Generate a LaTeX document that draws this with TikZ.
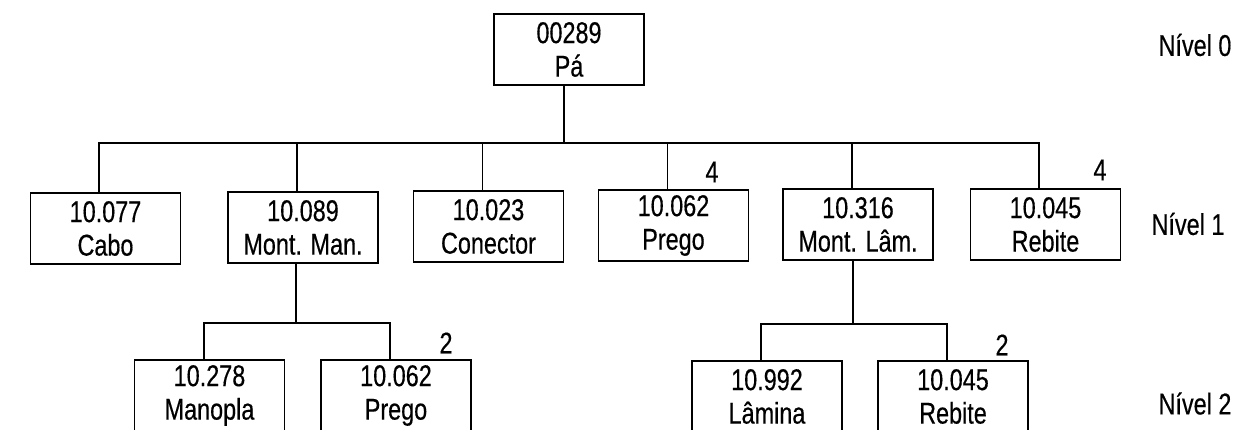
\documentclass[tikz,border=0pt]{standalone}
\usepackage{fontspec}
\setmainfont{Liberation Sans}[FakeStretch=0.78,FakeBold=0.4]
\begin{document}
\begin{tikzpicture}[x=1pt,y=-1pt,
  item/.style={draw,line width=1.4pt,minimum width=150pt,minimum height=71pt,inner sep=0pt,align=center,font=\fontsize{30}{33.5}\selectfont},
  lbl/.style={inner sep=0pt,font=\fontsize{30}{33}\selectfont},
  conn/.style={line width=1.4pt}]
\useasboundingbox[fill=white] (0,0) rectangle (1254,429);
% level 0
\node[item] (root) at (569,49.5) {00289\\Pá};
% level 1
\node[item] (cabo) at (105.5,228.5) {10.077\\Cabo};
\node[item] (mman) at (303,227.5) {10.089\\Mont. Man.};
\node[item] (con) at (488.5,226.5) {10.023\\Conector};
\node[item] (prego) at (673.5,225.5) {10.062\\Prego};
\node[item] (mlam) at (858,224.5) {10.316\\Mont. Lâm.};
\node[item] (reb) at (1045.5,224.5) {10.045\\Rebite};
% level 2
\node[item] (man) at (209.5,395.5) {10.278\\Manopla};
\node[item] (prego2) at (396,395.5) {10.062\\Prego};
\node[item] (lam) at (767,396.5) {10.992\\Lâmina};
\node[item] (reb2) at (953,396.5) {10.045\\Rebite};
% quantities
\node[lbl] (q1) at (712,172) {4};
\node[lbl] (q2) at (1100,170) {4};
\node[lbl] (q3) at (446,343) {2};
\node[lbl] (q4) at (1002,345) {2};
% levels
\node[lbl] (n0) at (1195,45) {Nível 0};
\node[lbl] (n1) at (1188,224) {Nível 1};
\node[lbl] (n2) at (1195,403.5) {Nível 2};
% connectors
\coordinate (b0) at ([xshift=-5pt]root.south |- 0,143);
\draw[conn] ([xshift=-5pt]root.south) -- (b0);
\draw[conn] ([xshift=-6.5pt]cabo.north) |- ([xshift=-6.5pt]reb.north |- b0) -- ([xshift=-6.5pt]reb.north);
\foreach \n in {mman,con,prego,mlam}
  \draw[conn] ([xshift=-6pt]\n.north |- b0) -- ([xshift=-6pt]\n.north);
\coordinate (b1) at ([xshift=-7pt]mman.south |- 0,323);
\draw[conn] ([xshift=-7pt]mman.south) -- (b1);
\draw[conn] ([xshift=-5.5pt]man.north) |- ([xshift=-6pt]prego2.north |- b1) -- ([xshift=-6pt]prego2.north);
\coordinate (b2) at ([xshift=-5pt]mlam.south |- 0,324);
\draw[conn] ([xshift=-5pt]mlam.south) -- (b2);
\draw[conn] ([xshift=-6pt]lam.north) |- ([xshift=-6pt]reb2.north |- b2) -- ([xshift=-6pt]reb2.north);
\end{tikzpicture}
\end{document}
